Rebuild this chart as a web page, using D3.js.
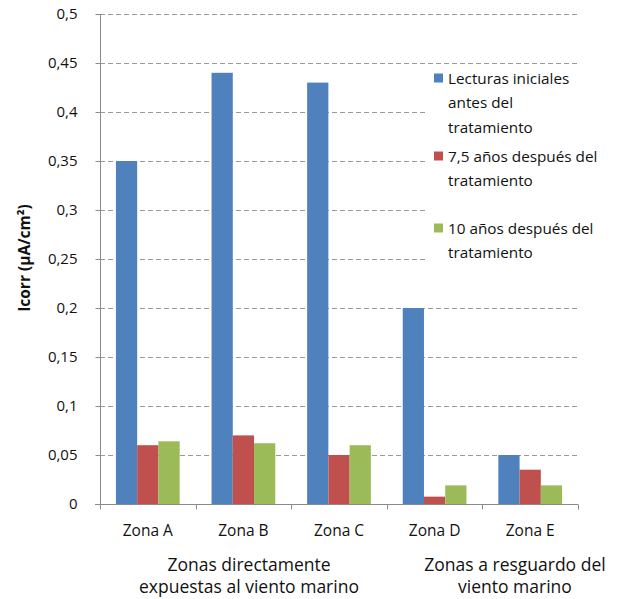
<!DOCTYPE html>
<html><head><meta charset="utf-8">
<script src="https://cdn.jsdelivr.net/npm/d3@7/dist/d3.min.js"></script>
<style>body{margin:0;background:#fff}svg{display:block}text{font-family:"Open Sans",sans-serif;fill:#111}</style>
</head><body><svg id="c" width="618" height="599"></svg>
<script>
const zones = ["Zona A","Zona B","Zona C","Zona D","Zona E"];
const seriesNames = ["Lecturas iniciales antes del tratamiento","7,5 años después del tratamiento","10 años después del tratamiento"];
const inicial = [0.35, 0.44, 0.43, 0.20, 0.05];
const anos75 = [0.06, 0.07, 0.05, 0.0075, 0.035];
const anos10 = [0.064, 0.062, 0.06, 0.019, 0.019];
const yTicks = [0,0.05,0.1,0.15,0.2,0.25,0.3,0.35,0.4,0.45,0.5];
const colors = ["#4F81BD","#C0504D","#9BBB59"];
const legendLines = [["Lecturas iniciales","antes del","tratamiento"],["7,5 años después del","tratamiento"],["10 años después del","tratamiento"]];
const groupLabels = [["Zonas directamente","expuestas al viento marino"],["Zonas a resguardo del","viento marino"]];

const allSeries = [inicial, anos75, anos10];
const svg = d3.select("#c");
const x = d3.scaleBand().domain(zones).range([100, 578]).padding(0);
const xs = d3.scaleBand().domain(d3.range(3)).range([0, x.bandwidth()]).paddingInner(0).paddingOuter(0.75);
const y = d3.scaleLinear().domain([0, 0.5]).range([504, 14]);

svg.append("g").selectAll("line").data(yTicks.filter(d=>d>0)).join("line")
  .attr("x1",100).attr("x2",578).attr("y1",d=>Math.round(y(d))+0.5).attr("y2",d=>Math.round(y(d))+0.5)
  .attr("stroke","#9a9a9a").attr("stroke-width",1).attr("stroke-dasharray","5,3");

const g = svg.append("g");
allSeries.forEach((vals, si) => {
  g.selectAll(null).data(vals).join("rect")
    .attr("x",(d,i)=>x(zones[i])+xs(si))
    .attr("width",xs.bandwidth())
    .attr("y",d=>y(d))
    .attr("height",d=>y(0)-y(d))
    .attr("fill",colors[si]);
});

const ya = d3.axisLeft(y).tickValues(yTicks).tickSize(5).tickPadding(18)
  .tickFormat(d=>String(d).replace(".",","));
const yg = svg.append("g").attr("transform","translate(100.5,0)").call(ya);
yg.select(".domain").attr("stroke","#8a8a8a").attr("d","M0,"+y(0.5)+"V"+y(0));
yg.selectAll(".tick line").attr("stroke","#8a8a8a");
yg.selectAll(".tick text").style("font-family","'Open Sans',sans-serif").style("font-size","15px").attr("fill","#111");

const xa = svg.append("g").attr("transform","translate(0,"+(y(0)+0.5)+")");
xa.append("line").attr("x1",95).attr("x2",578).attr("stroke","#8a8a8a");
xa.selectAll(".tk").data(zones.map(z=>x(z)).concat([578])).join("line")
  .attr("x1",d=>Math.round(d)+0.5).attr("x2",d=>Math.round(d)+0.5).attr("y1",0).attr("y2",5).attr("stroke","#8a8a8a");
xa.selectAll(".lb").data(zones).join("text")
  .attr("x",d=>x(d)+x.bandwidth()/2).attr("y",31).attr("text-anchor","middle")
  .style("font-size","15.5px").text(d=>d);

const gpos = [249, 515];
groupLabels.forEach((lines, gi) => {
  lines.forEach((t, li) => {
    svg.append("text").attr("x",gpos[gi]).attr("y",571+li*22).attr("text-anchor","middle")
      .style("font-size","17.5px").text(t);
  });
});

svg.append("text").attr("transform","translate(30,258) rotate(-90)").attr("text-anchor","middle")
  .style("font-size","15.5px").style("font-weight","bold").text("Icorr (µA/cm²)");

const lg = svg.append("g");
lg.append("rect").attr("x",426).attr("y",68).attr("width",192).attr("height",197).attr("fill","#fff");
const starts = [78, 156, 228];
legendLines.forEach((lines, si) => {
  lg.append("rect").attr("x",434).attr("y",starts[si]-4.5).attr("width",9).attr("height",9).attr("fill",colors[si]);
  lines.forEach((t, li) => {
    lg.append("text").attr("x",448).attr("y",starts[si]+li*24.5+5.5).style("font-size","15.3px").text(t);
  });
});
</script></body></html>
